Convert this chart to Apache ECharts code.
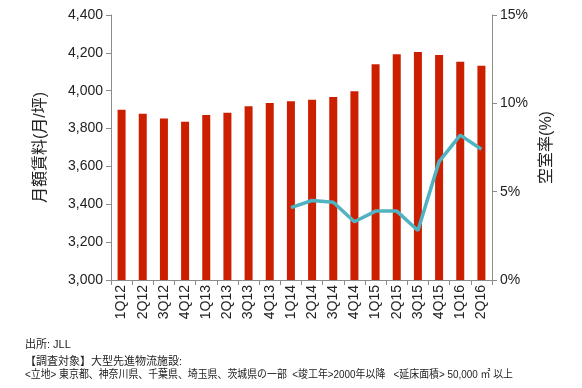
<!DOCTYPE html>
<html><head><meta charset="utf-8">
<script src="https://cdn.jsdelivr.net/npm/echarts@6/dist/echarts.min.js"></script>
<style>html,body{margin:0;padding:0;background:#fff}#c{width:582px;height:388px}</style>
</head><body><div id="c"></div>
<script>
const categories = ['1Q12','2Q12','3Q12','4Q12','1Q13','2Q13','3Q13','4Q13','1Q14','2Q14','3Q14','4Q14','1Q15','2Q15','3Q15','4Q15','1Q16','2Q16'];
const rent = [3900,3878,3853,3836,3872,3884,3918,3935,3944,3952,3967,3997,4140,4192,4205,4189,4153,4132];
const vacancy = [null,null,null,null,null,null,null,null,4.1,4.5,4.4,3.3,3.9,3.9,2.8,6.7,8.2,7.4];
const leftTicks = [3000,4400,200];
const rightTicks = [0,15,5];
const footer = ['出所: JLL','【調査対象】大型先進物流施設:','<立地> 東京都、神奈川県、千葉県、埼玉県、茨城県の一部  <竣工年>2000年以降   <延床面積> 50,000 ㎡ 以上'];

const FONT = 'Liberation Sans, Noto Sans CJK JP, sans-serif';
const chart = echarts.init(document.getElementById('c'), null, {renderer:'canvas'});
const axisCommon = {
  axisLine:{show:true,lineStyle:{color:'#8c8c8c',width:1}},
  axisTick:{show:true,length:5,lineStyle:{color:'#8c8c8c'}},
  splitLine:{show:false},
};
chart.setOption({
  animation:false,
  textStyle:{fontFamily:FONT},
  grid:{left:111,right:90,top:15,bottom:108,containLabel:false},
  xAxis:{type:'category',data:categories,...axisCommon,
    axisTick:{show:true,length:5,alignWithLabel:false,lineStyle:{color:'#8c8c8c'}},
    axisLabel:{rotate:90,fontSize:14,color:'#222',margin:5,interval:0,fontFamily:FONT}},
  yAxis:[
    {type:'value',min:leftTicks[0],max:leftTicks[1],interval:leftTicks[2],position:'left',...axisCommon,
     name:'月額賃料(月/坪)',nameLocation:'middle',nameGap:62,nameRotate:90,
     nameTextStyle:{fontSize:16,color:'#222',fontFamily:FONT},
     axisLabel:{fontSize:14,color:'#222',margin:8,fontFamily:FONT,formatter:v=>v.toLocaleString('en-US')}},
    {type:'value',min:rightTicks[0],max:rightTicks[1],interval:rightTicks[2],position:'right',...axisCommon,
     name:'空室率(%)',nameLocation:'middle',nameGap:40,nameRotate:90,
     nameTextStyle:{fontSize:16,color:'#222',fontFamily:FONT},
     axisLabel:{fontSize:14,color:'#222',margin:8,fontFamily:FONT,formatter:v=>v+'%'}}
  ],
  series:[
    {type:'bar',data:rent,yAxisIndex:0,barWidth:8,itemStyle:{color:'#cc1f00'}},
    {type:'line',data:vacancy,yAxisIndex:1,symbol:'none',lineStyle:{color:'#4fb3c2',width:3.5},connectNulls:false}
  ],
  graphic:[
    {type:'text',x:25,y:339,style:{text:footer[0],fontSize:11,fill:'#222',fontFamily:FONT}},
    {type:'text',x:25,y:356,style:{text:footer[1],fontSize:11,fill:'#222',fontFamily:FONT}},
    {type:'text',x:25,y:369,scaleX:0.9,style:{text:footer[2],fontSize:11,fill:'#222',fontFamily:FONT}}
  ]
});
</script></body></html>
